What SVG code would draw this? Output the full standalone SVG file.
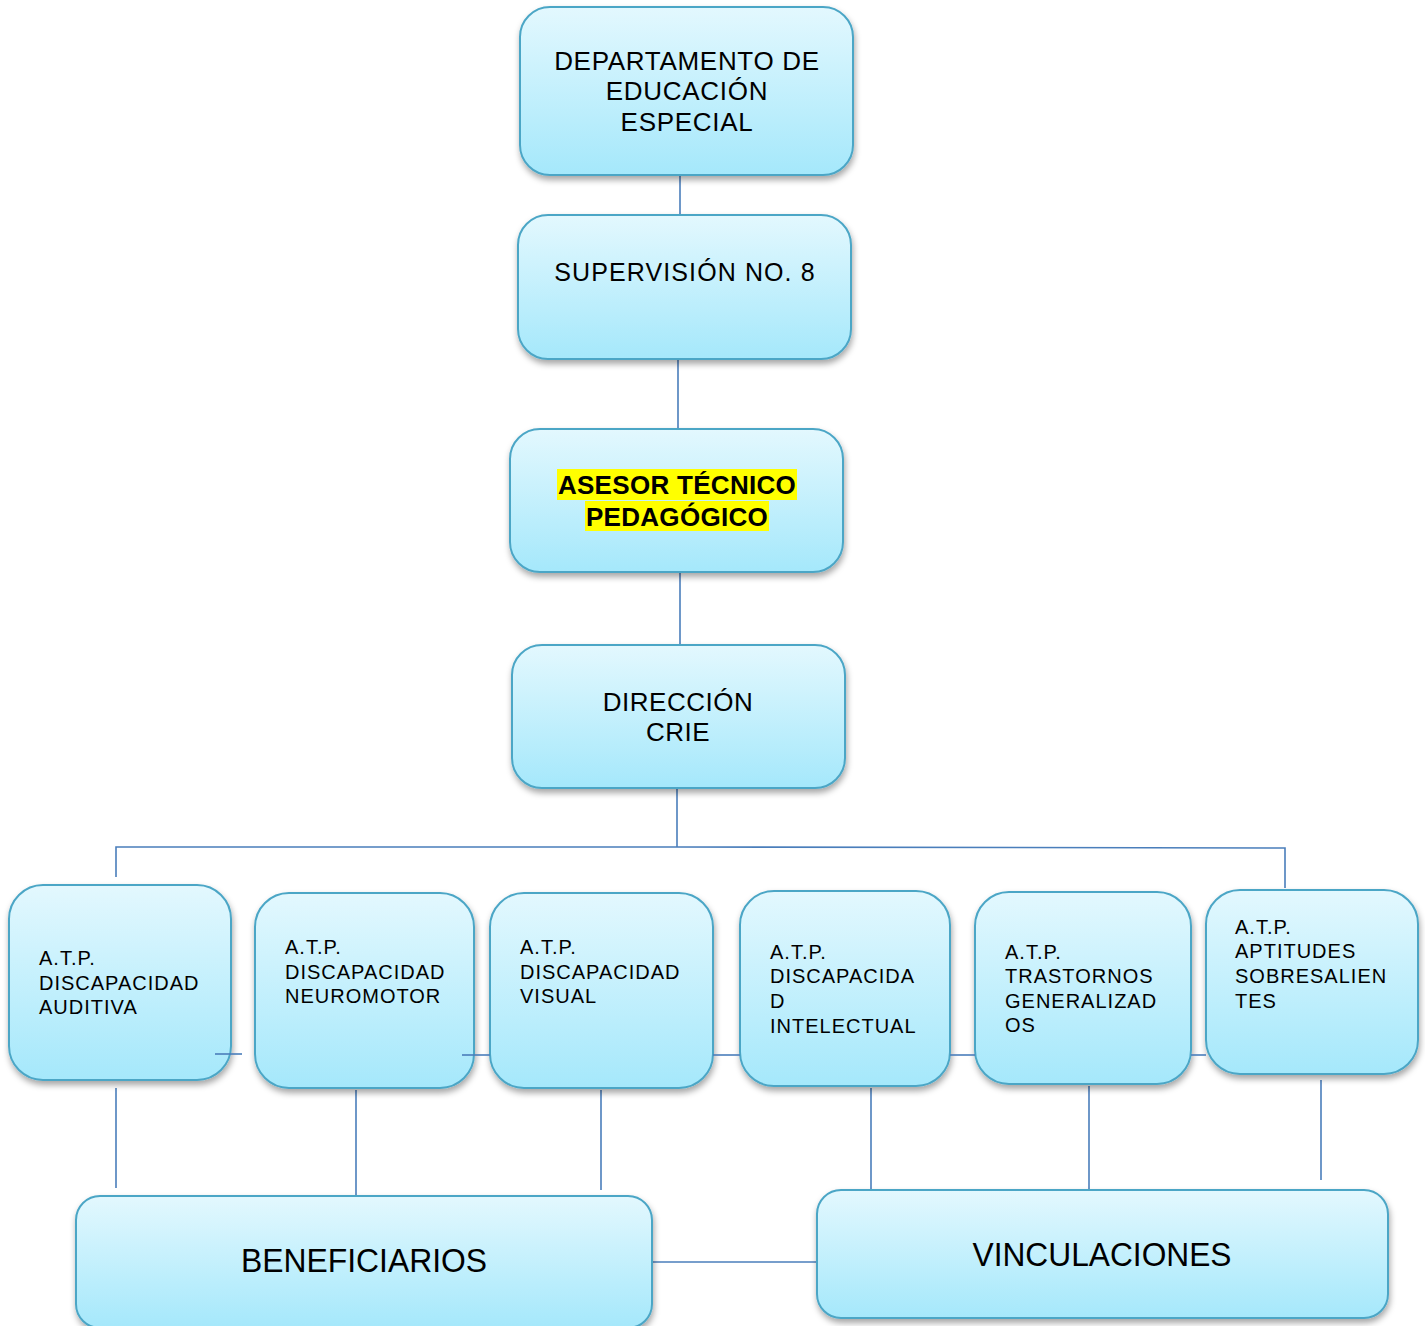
<svg xmlns="http://www.w3.org/2000/svg" width="1425" height="1326" viewBox="0 0 1425 1326">
<defs>
<linearGradient id="g" x1="0" y1="0" x2="0" y2="1">
<stop offset="0" stop-color="#e3f8fe"/>
<stop offset="1" stop-color="#a5e8fb"/>
</linearGradient>
<filter id="sh" x="-10%" y="-10%" width="120%" height="125%">
<feDropShadow dx="1" dy="4" stdDeviation="3" flood-color="#000" flood-opacity="0.35"/>
</filter>
</defs>
<style>
.box{fill:url(#g);stroke:#4ba6c6;stroke-width:2;filter:url(#sh)}
.c{stroke:#4a7ebb;stroke-width:1.6;fill:none}
.t{font-family:"Liberation Sans",Arial,sans-serif;fill:#000}
.big{font-size:26px;text-anchor:middle}
.atp{font-size:20px;letter-spacing:1px}
.bot{font-size:34px;text-anchor:middle}
</style>
<rect width="1425" height="1326" fill="#fff"/>
<g id="connectors">
<line class="c" x1="680" y1="175" x2="680" y2="215"/>
<line class="c" x1="678" y1="359" x2="678" y2="429"/>
<line class="c" x1="680" y1="572" x2="680" y2="645"/>
<line class="c" x1="677" y1="788" x2="677" y2="847"/>
<polyline class="c" points="116,877 116,847 677,847 1285,848 1285,888"/>
<line class="c" x1="116" y1="1088" x2="116" y2="1188"/>
<line class="c" x1="356" y1="1090" x2="356" y2="1196"/>
<line class="c" x1="601" y1="1090" x2="601" y2="1190"/>
<line class="c" x1="871" y1="1088" x2="871" y2="1190"/>
<line class="c" x1="1089" y1="1086" x2="1089" y2="1190"/>
<line class="c" x1="1321" y1="1080" x2="1321" y2="1180"/>
<line class="c" x1="652" y1="1262" x2="817" y2="1262"/>
</g>
<g id="n1"><rect class="box" x="520" y="7" width="333" height="168" rx="30"/>
<text class="t big" letter-spacing="0.7"><tspan x="687" y="70">DEPARTAMENTO DE</tspan><tspan x="687" y="100">EDUCACIÓN</tspan><tspan x="687" y="131">ESPECIAL</tspan></text></g>
<g id="n2"><rect class="box" x="518" y="215" width="333" height="144" rx="30"/>
<text class="t" x="685" y="281" font-size="25" letter-spacing="1.1" text-anchor="middle">SUPERVISIÓN NO. 8</text></g>
<g id="n3"><rect class="box" x="510" y="429" width="333" height="143" rx="30"/>
<rect x="557" y="469" width="240" height="31" fill="#ffff00"/>
<rect x="585" y="501" width="184" height="30" fill="#ffff00"/>
<text class="t big" font-weight="bold" letter-spacing="0.3"><tspan x="677" y="494">ASESOR TÉCNICO</tspan><tspan x="677" y="526">PEDAGÓGICO</tspan></text></g>
<g id="n4"><rect class="box" x="512" y="645" width="333" height="143" rx="30"/>
<text class="t big" letter-spacing="0.5"><tspan x="678" y="711">DIRECCIÓN</tspan><tspan x="678" y="741">CRIE</tspan></text></g>
<g id="a1"><rect class="box" x="9" y="885" width="222" height="195" rx="34"/>
<text class="t atp"><tspan x="39" y="965">A.T.P.</tspan><tspan x="39" y="990">DISCAPACIDAD</tspan><tspan x="39" y="1014">AUDITIVA</tspan></text></g>
<g id="a2"><rect class="box" x="255" y="893" width="219" height="195" rx="34"/>
<text class="t atp"><tspan x="285" y="954">A.T.P.</tspan><tspan x="285" y="979">DISCAPACIDAD</tspan><tspan x="285" y="1003">NEUROMOTOR</tspan></text></g>
<g id="a3"><rect class="box" x="490" y="893" width="223" height="195" rx="34"/>
<text class="t atp"><tspan x="520" y="954">A.T.P.</tspan><tspan x="520" y="979">DISCAPACIDAD</tspan><tspan x="520" y="1003">VISUAL</tspan></text></g>
<g id="a4"><rect class="box" x="740" y="891" width="210" height="195" rx="34"/>
<text class="t atp"><tspan x="770" y="959">A.T.P.</tspan><tspan x="770" y="983">DISCAPACIDA</tspan><tspan x="770" y="1008">D</tspan><tspan x="770" y="1033">INTELECTUAL</tspan></text></g>
<g id="a5"><rect class="box" x="975" y="892" width="216" height="192" rx="34"/>
<text class="t atp"><tspan x="1005" y="959">A.T.P.</tspan><tspan x="1005" y="983">TRASTORNOS</tspan><tspan x="1005" y="1008">GENERALIZAD</tspan><tspan x="1005" y="1032">OS</tspan></text></g>
<g id="a6"><rect class="box" x="1206" y="890" width="212" height="184" rx="34"/>
<text class="t atp"><tspan x="1235" y="934">A.T.P.</tspan><tspan x="1235" y="958">APTITUDES</tspan><tspan x="1235" y="983">SOBRESALIEN</tspan><tspan x="1235" y="1008">TES</tspan></text></g>
<g id="links">
<line class="c" x1="215" y1="1054" x2="242" y2="1054"/>
<line class="c" x1="462" y1="1055" x2="490" y2="1055"/>
<line class="c" x1="713" y1="1055" x2="740" y2="1055"/>
<line class="c" x1="950" y1="1055" x2="975" y2="1055"/>
<line class="c" x1="1191" y1="1055" x2="1206" y2="1055"/>
</g>
<g id="b1"><rect class="box" x="76" y="1196" width="576" height="132" rx="24"/>
<text class="t bot" x="364" y="1272" textLength="246" lengthAdjust="spacingAndGlyphs">BENEFICIARIOS</text></g>
<g id="b2"><rect class="box" x="817" y="1190" width="571" height="128" rx="24"/>
<text class="t bot" x="1102" y="1266" textLength="259" lengthAdjust="spacingAndGlyphs">VINCULACIONES</text></g>
</svg>
